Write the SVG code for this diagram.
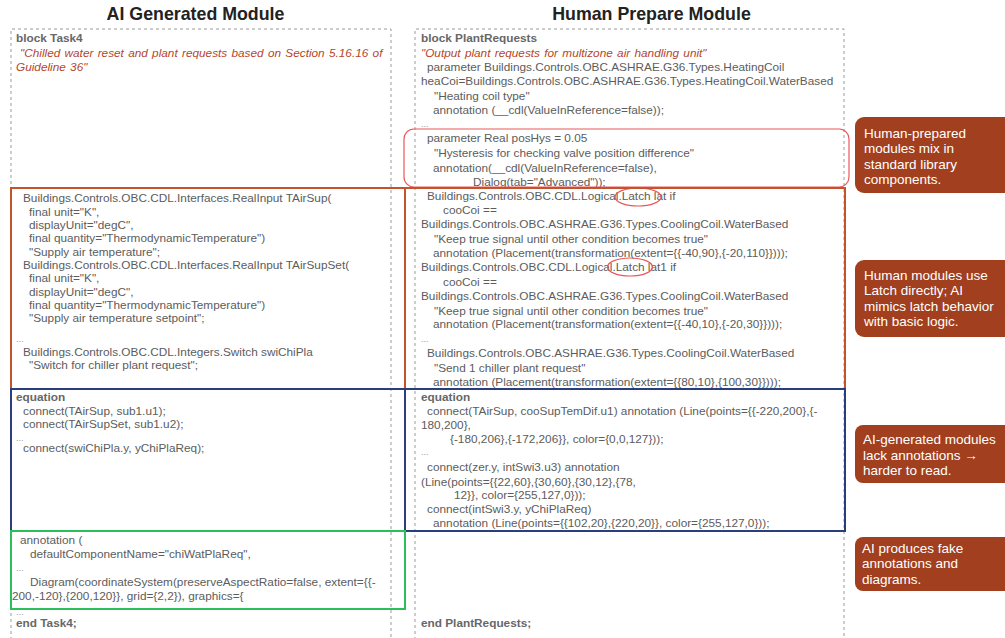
<svg xmlns="http://www.w3.org/2000/svg" width="1005" height="638" viewBox="0 0 1005 638">
<style>
text{font-family:"Liberation Sans",Arial,sans-serif}
.title{font-size:17.8px;font-weight:bold;fill:#222;text-anchor:middle}
.c{font-size:11.8px;fill:#5c5c5c}
.kw{font-size:11.8px;font-weight:bold;fill:#676767}
.q{font-size:11.8px;font-style:italic;fill:#B5462A;word-spacing:1px}
.d{font-size:9px;fill:#999}
.frame{fill:none;stroke:#9a9a9a;stroke-width:1;stroke-dasharray:3,3}
.orange{fill:none;stroke:#C2532D;stroke-width:2}
.blue{fill:none;stroke:#2A3D7C;stroke-width:2}
.green{fill:none;stroke:#2DBE5C;stroke-width:2}
.red{fill:none;stroke:#E8585A;stroke-width:1.2}
.call{fill:#A13F1F}
.ct{font-size:13.5px;fill:#fff}
</style>
<rect width="1005" height="638" fill="#fff"/>

<g id="title-ai"><text class="title" x="195.5" y="20">AI Generated Module</text></g>
<g id="title-human"><text class="title" x="651.5" y="20">Human Prepare Module</text></g>

<g id="module-ai">
<path class="frame" d="M11,640 V29 H391 V640"/>
<text class="kw" x="16" y="42">block Task4</text>
<text class="q" x="20" y="57">"Chilled water reset and plant requests based on Section 5.16.16 of</text>
<text class="q" x="16" y="71">Guideline 36"</text>
<text class="c" x="23" y="202">Buildings.Controls.OBC.CDL.Interfaces.RealInput TAirSup(</text>
<text class="c" x="29" y="216">final unit="K",</text>
<text class="c" x="29" y="229">displayUnit="degC",</text>
<text class="c" x="29" y="242">final quantity="ThermodynamicTemperature")</text>
<text class="c" x="29" y="256">"Supply air temperature";</text>
<text class="c" x="23" y="269">Buildings.Controls.OBC.CDL.Interfaces.RealInput TAirSupSet(</text>
<text class="c" x="29" y="282">final unit="K",</text>
<text class="c" x="29" y="296">displayUnit="degC",</text>
<text class="c" x="29" y="309">final quantity="ThermodynamicTemperature")</text>
<text class="c" x="29" y="322">"Supply air temperature setpoint";</text>
<text class="d" x="16" y="342">...</text>
<text class="c" x="23" y="356">Buildings.Controls.OBC.CDL.Integers.Switch swiChiPla</text>
<text class="c" x="29" y="369">"Switch for chiller plant request";</text>
<text class="kw" x="16" y="401">equation</text>
<text class="c" x="23" y="415">connect(TAirSup, sub1.u1);</text>
<text class="c" x="23" y="428">connect(TAirSupSet, sub1.u2);</text>
<text class="d" x="16" y="441">...</text>
<text class="c" x="23" y="452">connect(swiChiPla.y, yChiPlaReq);</text>
<text class="c" x="20" y="544">annotation (</text>
<text class="c" x="30" y="558">defaultComponentName="chiWatPlaReq",</text>
<text class="d" x="16" y="571">...</text>
<text class="c" x="30" y="586">Diagram(coordinateSystem(preserveAspectRatio=false, extent={{-</text>
<text class="c" x="12" y="600">200,-120},{200,120}}, grid={2,2}), graphics={</text>
<text class="d" x="16" y="615">...</text>
<text class="kw" x="16" y="627">end Task4;</text>
</g>

<g id="module-human">
<path class="frame" d="M415,640 V29 H844 V640"/>
<text class="kw" x="421" y="42">block PlantRequests</text>
<text class="q" x="421" y="57">"Output plant requests for multizone air handling unit"</text>
<text class="c" x="427" y="71">parameter Buildings.Controls.OBC.ASHRAE.G36.Types.HeatingCoil</text>
<text class="c" x="421" y="85">heaCoi=Buildings.Controls.OBC.ASHRAE.G36.Types.HeatingCoil.WaterBased</text>
<text class="c" x="434" y="100">"Heating coil type"</text>
<text class="c" x="433" y="114">annotation (__cdl(ValueInReference=false));</text>
<text class="d" x="421" y="127">...</text>
<text class="c" x="427" y="142">parameter Real posHys = 0.05</text>
<text class="c" x="434" y="157">"Hysteresis for checking valve position difference"</text>
<text class="c" x="433" y="172">annotation(__cdl(ValueInReference=false),</text>
<text class="c" x="473" y="186">Dialog(tab="Advanced"));</text>
<text class="c" x="427" y="200">Buildings.Controls.OBC.CDL.Logical.Latch lat if</text>
<text class="c" x="443" y="214">cooCoi ==</text>
<text class="c" x="421" y="228">Buildings.Controls.OBC.ASHRAE.G36.Types.CoolingCoil.WaterBased</text>
<text class="c" x="434" y="243">"Keep true signal until other condition becomes true"</text>
<text class="c" x="433" y="257">annotation (Placement(transformation(extent={{-40,90},{-20,110}})));</text>
<text class="c" x="421" y="271">Buildings.Controls.OBC.CDL.Logical.Latch lat1 if</text>
<text class="c" x="443" y="286">cooCoi ==</text>
<text class="c" x="421" y="300">Buildings.Controls.OBC.ASHRAE.G36.Types.CoolingCoil.WaterBased</text>
<text class="c" x="434" y="315">"Keep true signal until other condition becomes true"</text>
<text class="c" x="433" y="328">annotation (Placement(transformation(extent={{-40,10},{-20,30}})));</text>
<text class="d" x="421" y="342">...</text>
<text class="c" x="427" y="357">Buildings.Controls.OBC.ASHRAE.G36.Types.CoolingCoil.WaterBased</text>
<text class="c" x="434" y="372">"Send 1 chiller plant request"</text>
<text class="c" x="433" y="386">annotation (Placement(transformation(extent={{80,10},{100,30}})));</text>
<text class="kw" x="421" y="401">equation</text>
<text class="c" x="427" y="415">connect(TAirSup, cooSupTemDif.u1) annotation (Line(points={{-220,200},{-</text>
<text class="c" x="421" y="429">180,200},</text>
<text class="c" x="450" y="443">{-180,206},{-172,206}}, color={0,0,127}));</text>
<text class="d" x="421" y="455">...</text>
<text class="c" x="427" y="471">connect(zer.y, intSwi3.u3) annotation</text>
<text class="c" x="421" y="486">(Line(points={{22,60},{30,60},{30,12},{78,</text>
<text class="c" x="454" y="499">12}}, color={255,127,0}));</text>
<text class="c" x="427" y="513">connect(intSwi3.y, yChiPlaReq)</text>
<text class="c" x="433" y="527">annotation (Line(points={{102,20},{220,20}}, color={255,127,0}));</text>
<text class="kw" x="421" y="627">end PlantRequests;</text>
</g>

<g id="highlights">
<rect id="hl-library" class="red" x="404" y="129" width="445" height="58" rx="10"/>
<ellipse id="hl-latch1" class="red" cx="638" cy="197" rx="23" ry="9"/>
<ellipse id="hl-latch2" class="red" cx="630" cy="267" rx="22.5" ry="9"/>
<rect id="hl-decl-ai" class="orange" x="11" y="188" width="394" height="201"/>
<rect id="hl-decl-human" class="orange" x="405" y="188" width="440" height="201"/>
<rect id="hl-eq-ai" class="blue" x="11" y="389" width="394" height="142"/>
<rect id="hl-eq-human" class="blue" x="405" y="389" width="440" height="142"/>
<rect id="hl-annot-ai" class="green" x="11" y="531" width="394" height="78"/>
</g>

<g id="connectors"/>

<g id="callout-1">
<rect class="call" x="855" y="117" width="165" height="76" rx="9"/>
<text class="ct" x="864" y="137.5">Human-prepared</text>
<text class="ct" x="864" y="153">modules mix in</text>
<text class="ct" x="864" y="168.5">standard library</text>
<text class="ct" x="864" y="184">components.</text>
</g>
<g id="callout-2">
<rect class="call" x="855" y="260" width="165" height="77" rx="9"/>
<text class="ct" x="864" y="279.5">Human modules use</text>
<text class="ct" x="864" y="295">Latch directly; AI</text>
<text class="ct" x="864" y="310.5">mimics latch behavior</text>
<text class="ct" x="864" y="326">with basic logic.</text>
</g>
<g id="callout-3">
<rect class="call" x="855" y="425" width="165" height="58" rx="8"/>
<text class="ct" x="863" y="443.5">AI-generated modules</text>
<text class="ct" x="863" y="459.5">lack annotations →</text>
<text class="ct" x="863" y="475">harder to read.</text>
</g>
<g id="callout-4">
<rect class="call" x="855" y="537" width="165" height="54" rx="8"/>
<text class="ct" x="862" y="552.5">AI produces fake</text>
<text class="ct" x="862" y="568">annotations and</text>
<text class="ct" x="862" y="583.5">diagrams.</text>
</g>
</svg>
